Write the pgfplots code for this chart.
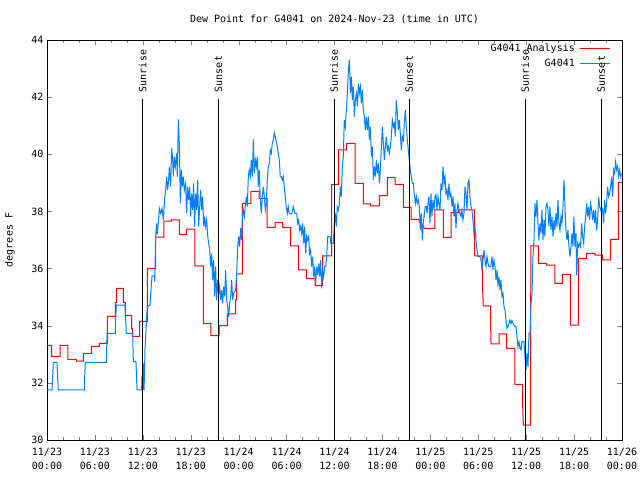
\documentclass[border=0pt]{standalone}
\usepackage{fontspec}
\setmainfont{DejaVu Sans Mono}
\usepackage{pgfplots}
\pgfplotsset{compat=1.18}
\definecolor{gblue}{RGB}{0,128,255}
\newcommand{\gf}{\fontsize{10bp}{14bp}\selectfont}
\begin{document}
\begin{tikzpicture}
\useasboundingbox (-47bp,-40bp) rectangle (593bp,440bp);
\begin{axis}[
  at={(0,0)}, anchor=south west,
  scale only axis, width=575bp, height=400bp,
  xmin=0, xmax=72, ymin=30, ymax=44,
  xtick={0,6,...,72},
  xticklabels={{11/23\\00:00},{11/23\\06:00},{11/23\\12:00},{11/23\\18:00},{11/24\\00:00},{11/24\\06:00},{11/24\\12:00},{11/24\\18:00},{11/25\\00:00},{11/25\\06:00},{11/25\\12:00},{11/25\\18:00},{11/26\\00:00}},
  minor xtick={2,4,...,70},
  ytick={30,32,...,44},
  tick align=inside,
  major tick length=5bp, minor tick length=3bp,
  axis line style={line width=0.9bp},
  xticklabel style={align=center, font=\gf, yshift=-5bp},
  yticklabel style={font=\gf},
  /pgf/number format/assume math mode=true,
  title={Dew Point for G4041 on 2024-Nov-23 (time in UTC)},
  title style={font=\gf, at={(axis description cs:0.5,1.03)}, anchor=base},
  ylabel={degrees F},
  ylabel style={font=\gf, at={(axis description cs:-0.0643,0.5)}, anchor=center},
]
\addplot[red, line width=1bp, sharp plot] coordinates {
(0,33.31)(0.58,33.31)(0.58,32.93)(1.63,32.93)(1.63,33.31)(2.6,33.31)(2.6,32.82)(3.67,32.82)(3.67,32.76)(4.55,32.76)(4.55,33.03)(5.59,33.03)(5.59,33.28)(6.55,33.28)(6.55,33.38)(7.55,33.38)(7.55,34.33)(8.56,34.33)(8.56,34.82)(8.72,34.82)(8.72,35.31)(9.56,35.31)(9.56,34.82)(9.81,34.82)(9.81,34.36)(10.6,34.36)(10.6,33.91)(10.73,33.91)(10.73,33.63)(11.6,33.63)(11.6,34.15)(12.56,34.15)(12.56,36.01)(13.61,36.01)(13.61,37.1)(14.65,37.1)(14.65,37.66)(15.61,37.66)(15.61,37.7)(16.57,37.7)(16.57,37.2)(17.49,37.2)(17.49,37.38)(18.53,37.38)(18.53,36.09)(19.58,36.09)(19.58,34.08)(20.53,34.08)(20.53,33.65)(21.54,33.65)(21.54,34.0)(22.58,34.0)(22.58,34.41)(23.62,34.41)(23.62,34.9)(23.75,34.9)(23.75,35.81)(24.46,35.81)(24.46,38.28)(25.54,38.28)(25.54,38.7)(26.55,38.7)(26.55,38.46)(27.55,38.46)(27.55,37.44)(28.55,37.44)(28.55,37.62)(29.5,37.62)(29.5,37.44)(30.51,37.44)(30.51,36.79)(31.47,36.79)(31.47,35.95)(32.5,35.95)(32.5,35.66)(33.56,35.66)(33.56,35.4)(34.5,35.4)(34.5,36.44)(35.64,36.44)(35.64,38.95)(36.48,38.95)(36.48,40.15)(37.53,40.15)(37.53,40.38)(38.57,40.38)(38.57,38.98)(39.61,38.98)(39.61,38.26)(40.53,38.26)(40.53,38.19)(41.62,38.19)(41.62,38.55)(42.62,38.55)(42.62,39.18)(43.58,39.18)(43.58,38.95)(44.62,38.95)(44.62,38.14)(45.58,38.14)(45.58,37.72)(46.6,37.72)(46.6,37.66)(47.0,37.5)(47.3,37.41)(48.58,37.41)(48.58,38.05)(49.63,38.05)(49.63,37.09)(50.59,37.09)(50.59,37.96)(51.5,37.96)(51.5,38.05)(53.51,38.05)(53.51,37.17)(53.55,36.44)(54.51,36.44)(54.51,35.6)(54.63,34.69)(55.55,34.69)(55.55,34.02)(55.6,33.36)(56.6,33.36)(56.6,33.71)(57.56,33.71)(57.56,33.21)(58.6,33.21)(58.6,31.95)(59.56,31.95)(59.56,31.22)(59.65,30.52)(60.55,30.52)(60.55,33.67)(60.6,36.79)(61.52,36.79)(61.52,36.18)(62.56,36.18)(62.56,36.12)(63.6,36.12)(63.6,35.48)(64.52,35.48)(64.52,35.8)(65.53,35.8)(65.53,34.02)(66.53,34.02)(66.53,36.36)(67.57,36.36)(67.57,36.53)(68.61,36.53)(68.61,36.47)(69.57,36.47)(69.57,36.3)(70.58,36.3)(70.58,37.02)(71.54,37.02)(71.54,39.02)(72,39.02)
};
\addplot[gblue, line width=1bp, sharp plot] coordinates {
(0,31.75) (0.63,31.75) (0.71,32.23) (0.79,32.72) (1.25,32.72) (1.33,32.23) (1.42,31.75) (4.67,31.75) (4.72,32.23) (4.8,32.72) (7.43,32.72) (7.47,33.22) (7.55,33.73) (8.56,33.73) (8.6,34.23) (8.68,34.72) (9.77,34.72) (9.85,34.23) (9.93,33.73) (10.73,33.73) (10.81,32.74) (11.14,32.74) (11.27,31.75) (11.85,31.75) (11.9,32.23) (11.95,31.75) (12.0,32.68) (12.05,31.75) (12.1,32.68) (12.15,31.75) (12.2,32.23)
(12.27,33.15) (12.4,33.85) (12.56,34.67) (12.9,34.72) (13.02,35.25) (13.15,35.74) (13.44,35.74) (13.5,35.54) (13.6,37.12) (13.73,37.58) (13.8,37.2) (13.94,37.6) (14.07,38.11) (14.23,37.93) (14.4,38.11) (14.57,37.7) (14.73,38.46) (14.86,38.75) (14.98,39.22) (15.11,38.75) (15.23,39.1) (15.32,39.57) (15.48,38.87) (15.61,40.21) (15.74,39.8) (15.82,39.22) (15.94,39.92) (16.07,39.57) (16.24,40.03) (16.32,39.22) (16.45,41.22) (16.57,40.38) (16.7,38.28) (16.82,39.45) (16.95,38.87) (17.07,39.22) (17.2,38.75) (17.36,38.98) (17.49,37.93) (17.61,38.87) (17.74,38.4) (17.86,38.87) (17.99,37.82) (18.11,38.63) (18.24,38.05) (18.36,38.98) (18.49,37.47) (18.61,38.63) (18.74,38.05) (18.87,39.1) (18.99,37.47) (19.12,38.17) (19.24,38.75) (19.37,38.05) (19.49,38.52) (19.62,37.47) (19.74,37.82) (19.87,37.47) (19.99,37.7) (20.12,37.17) (20.24,36.88) (20.37,36.65) (20.49,36.07) (20.62,36.53) (20.74,35.6) (20.87,36.3) (20.99,35.02) (21.12,36.07) (21.24,34.9) (21.37,35.6) (21.5,35.13) (21.62,35.37) (21.75,34.9) (21.87,35.25) (22.0,34.78) (22.12,35.37) (22.25,35.02) (22.37,35.95) (22.5,34.9) (22.62,34.67) (22.75,34.3) (22.87,34.78) (23.0,35.02) (23.12,35.6) (23.25,34.9) (23.37,35.13) (23.5,35.19)
(23.62,35.25) (23.75,35.83) (23.87,36.71) (24.0,37.12) (24.12,36.77) (24.25,37.41) (24.37,37.0) (24.46,37.76) (24.58,38.05) (24.71,37.82) (24.83,38.17) (24.96,38.52) (25.08,38.17) (25.21,39.22) (25.33,39.45) (25.46,39.22) (25.58,39.8) (25.71,39.22) (25.84,40.52) (25.96,39.33) (26.09,39.8) (26.21,39.57) (26.34,39.92) (26.46,38.87) (26.59,39.45) (26.71,38.4) (26.84,37.93) (26.96,38.52) (27.09,38.87) (27.21,38.52) (27.34,38.05) (27.46,38.28) (27.59,39.1) (27.71,39.57) (27.84,39.68) (27.96,40.15) (28.09,40.03) (28.21,40.38) (28.34,40.5) (28.46,40.76) (28.59,40.62) (28.71,40.44) (28.84,40.27) (28.96,40.03) (29.09,39.8) (29.21,39.22) (29.34,39.22) (29.46,39.1) (29.59,39.22) (29.71,38.87) (29.84,38.52) (29.96,38.17) (30.09,37.93) (30.21,38.17) (30.34,37.93) (30.47,37.91) (30.64,37.91) (30.84,38.17) (31.05,37.93) (31.26,37.93) (31.39,37.58) (31.51,37.7) (31.64,37.35) (31.76,37.47) (31.89,37.23) (32.01,37.58) (32.14,36.88) (32.26,37.47) (32.39,36.53) (32.51,37.12) (32.64,37.0) (32.76,37.12) (32.89,36.53) (33.01,36.65) (33.14,36.07) (33.26,36.42) (33.39,35.72) (33.51,36.07) (33.64,35.43) (33.77,36.07) (33.89,35.77) (34.02,36.18) (34.14,35.72) (34.27,36.3) (34.39,35.31) (34.52,35.95) (34.64,35.72) (34.77,36.07) (34.89,36.07) (35.02,36.42) (35.14,37.12) (35.43,37.12) (35.56,36.88) (35.85,36.88)
(35.98,37.58) (36.1,37.93) (36.23,37.47) (36.35,38.17) (36.48,38.05) (36.6,38.23) (36.73,38.87) (36.85,38.52) (36.98,39.57) (37.1,39.92) (37.23,41.2) (37.36,40.97) (37.48,41.55) (37.61,42.13) (37.74,42.95) (37.86,43.3) (37.99,42.13) (38.11,42.72) (38.24,41.9) (38.36,42.37) (38.49,41.32) (38.61,41.9) (38.74,42.13) (38.86,41.67) (38.99,42.48) (39.11,42.13) (39.24,42.37) (39.36,41.78) (39.49,42.25) (39.61,41.55) (39.74,41.32) (39.86,40.85) (39.99,41.32) (40.11,40.85) (40.24,41.32) (40.37,40.5) (40.49,40.97) (40.62,39.92) (40.74,40.27) (40.87,39.1) (40.99,39.57) (41.12,39.22) (41.24,39.8) (41.37,39.33) (41.49,39.68) (41.62,38.98) (41.74,39.45) (41.87,40.27) (41.99,40.97) (42.12,40.38) (42.24,39.8) (42.37,40.27) (42.49,40.62) (42.62,40.15) (42.74,40.27) (42.87,40.03) (42.99,40.27) (43.12,40.62) (43.24,41.2) (43.37,40.97) (43.49,41.08) (43.62,40.62) (43.74,41.9) (43.87,41.43) (43.99,40.85) (44.12,41.2) (44.24,40.73) (44.37,40.15) (44.49,40.62) (44.62,40.5) (44.74,41.08) (44.87,41.55) (44.99,40.97) (45.12,40.5) (45.24,40.15) (45.37,39.8) (45.49,39.45) (45.62,39.22) (45.74,38.98) (45.87,38.98) (45.99,38.63) (46.12,38.28) (46.25,38.52) (46.37,38.28) (46.5,38.4) (46.62,38.17) (46.75,37.35) (46.87,37.93) (47.0,36.98) (47.12,37.58) (47.25,37.93) (47.37,38.17) (47.5,38.17) (47.6,37.93)
(47.7,38.28) (47.83,38.52) (47.95,37.58) (48.08,38.63) (48.2,37.82) (48.33,38.4) (48.46,38.05) (48.58,38.52) (48.71,38.58) (48.83,38.05) (48.96,38.52) (49.08,38.28) (49.21,38.05) (49.33,38.98) (49.46,38.75) (49.58,39.57) (49.71,38.98) (49.83,39.22) (49.96,38.63) (50.08,38.75) (50.21,38.4) (50.33,38.98) (50.46,38.52) (50.58,38.63) (50.71,38.17) (50.84,38.52) (50.96,37.82) (51.09,38.28) (51.21,37.41) (51.34,38.05) (51.46,38.28) (51.59,38.05) (51.71,37.93) (51.84,37.82) (51.96,38.05) (52.09,37.7) (52.21,37.93) (52.34,38.87) (52.46,38.63) (52.59,38.05) (52.71,38.98) (52.84,39.1) (52.96,38.52) (53.09,38.17) (53.21,38.05) (53.34,37.7) (53.46,37.29) (53.59,37.47) (53.72,37.0) (53.84,36.65) (53.97,36.42) (54.09,36.42) (54.22,36.42) (54.34,36.3) (54.47,35.95) (54.59,36.3) (54.72,36.65) (54.84,36.3) (54.97,36.07) (55.09,36.42) (55.22,36.18) (55.34,36.07) (55.59,36.07) (55.72,36.42) (55.84,35.95) (55.97,36.3) (56.1,36.07) (56.22,35.6) (56.35,35.95) (56.47,35.37) (56.6,35.72) (56.72,35.25) (56.85,35.6) (56.97,35.02) (57.1,35.13) (57.22,34.67) (57.35,34.55) (57.47,34.2) (57.6,33.91) (57.72,33.97) (57.85,34.08) (57.97,34.2) (58.1,34.08) (58.22,34.18) (58.35,34.08) (58.47,34.02) (58.6,33.97) (58.72,33.97) (58.85,33.62) (58.97,33.27) (59.1,33.44) (59.22,33.21) (59.35,33.15) (59.47,33.44) (59.6,33.44) (59.72,33.44) (59.85,32.92)
(59.98,32.45) (60.1,33.03) (60.23,32.57) (60.35,33.73) (60.48,33.73) (60.6,34.78) (60.73,35.13) (60.85,36.42) (60.98,37.0) (61.1,38.28) (61.23,37.82) (61.35,38.4) (61.48,37.58) (61.6,37.0) (61.73,37.58) (61.85,37.23) (61.98,38.05) (62.1,37.0) (62.23,37.7) (62.35,37.12) (62.48,38.17) (62.6,38.28) (62.73,38.05) (62.85,37.47) (62.98,38.17) (63.1,37.35) (63.23,37.82) (63.36,37.12) (63.48,37.7) (63.61,37.35) (63.73,37.93) (63.86,37.47) (63.98,38.4) (64.11,37.58) (64.23,37.35) (64.36,37.82) (64.48,37.58) (64.61,38.17) (64.73,39.1) (64.86,38.17) (64.98,37.35) (65.11,37.0) (65.23,37.35) (65.36,36.77) (65.48,36.42) (65.61,36.77) (65.73,37.23) (65.86,36.77) (65.98,37.82) (66.11,36.77) (66.24,37.23) (66.32,35.77) (66.45,36.88) (66.57,36.77) (66.7,36.88) (66.82,36.77) (66.95,37.58) (67.07,37.12) (67.2,36.88) (67.32,37.47) (67.45,37.82) (67.57,38.28) (67.7,37.82) (67.82,38.17) (67.95,37.7) (68.07,38.28) (68.2,38.05) (68.32,37.7) (68.45,38.05) (68.57,37.58) (68.7,38.05) (68.82,37.35) (68.95,37.7) (69.07,38.52) (69.2,38.17) (69.32,38.05) (69.45,38.17) (69.57,38.05) (69.7,37.58) (69.82,38.4) (69.95,37.93) (70.07,38.28) (70.2,38.87) (70.33,38.52) (70.45,38.63) (70.58,38.87) (70.7,39.22) (70.83,38.52) (70.95,39.45) (71.08,39.33) (71.2,39.74) (71.33,39.45) (71.45,39.57) (71.58,39.22) (71.7,39.45) (71.83,39.22) (71.95,39.33)
};
\addplot[black, line width=1bp] coordinates {(11.97,30) (11.97,41.92)};
\addplot[black, line width=1bp] coordinates {(21.47,30) (21.47,41.92)};
\addplot[black, line width=1bp] coordinates {(35.97,30) (35.97,41.92)};
\addplot[black, line width=1bp] coordinates {(45.37,30) (45.37,41.92)};
\addplot[black, line width=1bp] coordinates {(59.87,30) (59.87,41.92)};
\addplot[black, line width=1bp] coordinates {(69.4,30) (69.4,41.92)};
\draw[red, line width=1bp] (axis description cs:0.927,0.9795) -- (axis description cs:0.979,0.9795);
\draw[gblue, line width=1bp] (axis description cs:0.927,0.942) -- (axis description cs:0.979,0.942);
\node[anchor=base east, font=\gf, inner sep=0pt] at (axis description cs:0.9183,0.97) {G4041 Analysis};
\node[anchor=base east, font=\gf, inner sep=0pt] at (axis description cs:0.9183,0.9325) {G4041};
\node[rotate=90, anchor=west, font=\gf, inner sep=0pt] at (axis cs:11.97,42.17) {Sunrise};
\node[rotate=90, anchor=west, font=\gf, inner sep=0pt] at (axis cs:21.47,42.17) {Sunset};
\node[rotate=90, anchor=west, font=\gf, inner sep=0pt] at (axis cs:35.97,42.17) {Sunrise};
\node[rotate=90, anchor=west, font=\gf, inner sep=0pt] at (axis cs:45.37,42.17) {Sunset};
\node[rotate=90, anchor=west, font=\gf, inner sep=0pt] at (axis cs:59.87,42.17) {Sunrise};
\node[rotate=90, anchor=west, font=\gf, inner sep=0pt] at (axis cs:69.4,42.17) {Sunset};
\end{axis}
\end{tikzpicture}
\end{document}
